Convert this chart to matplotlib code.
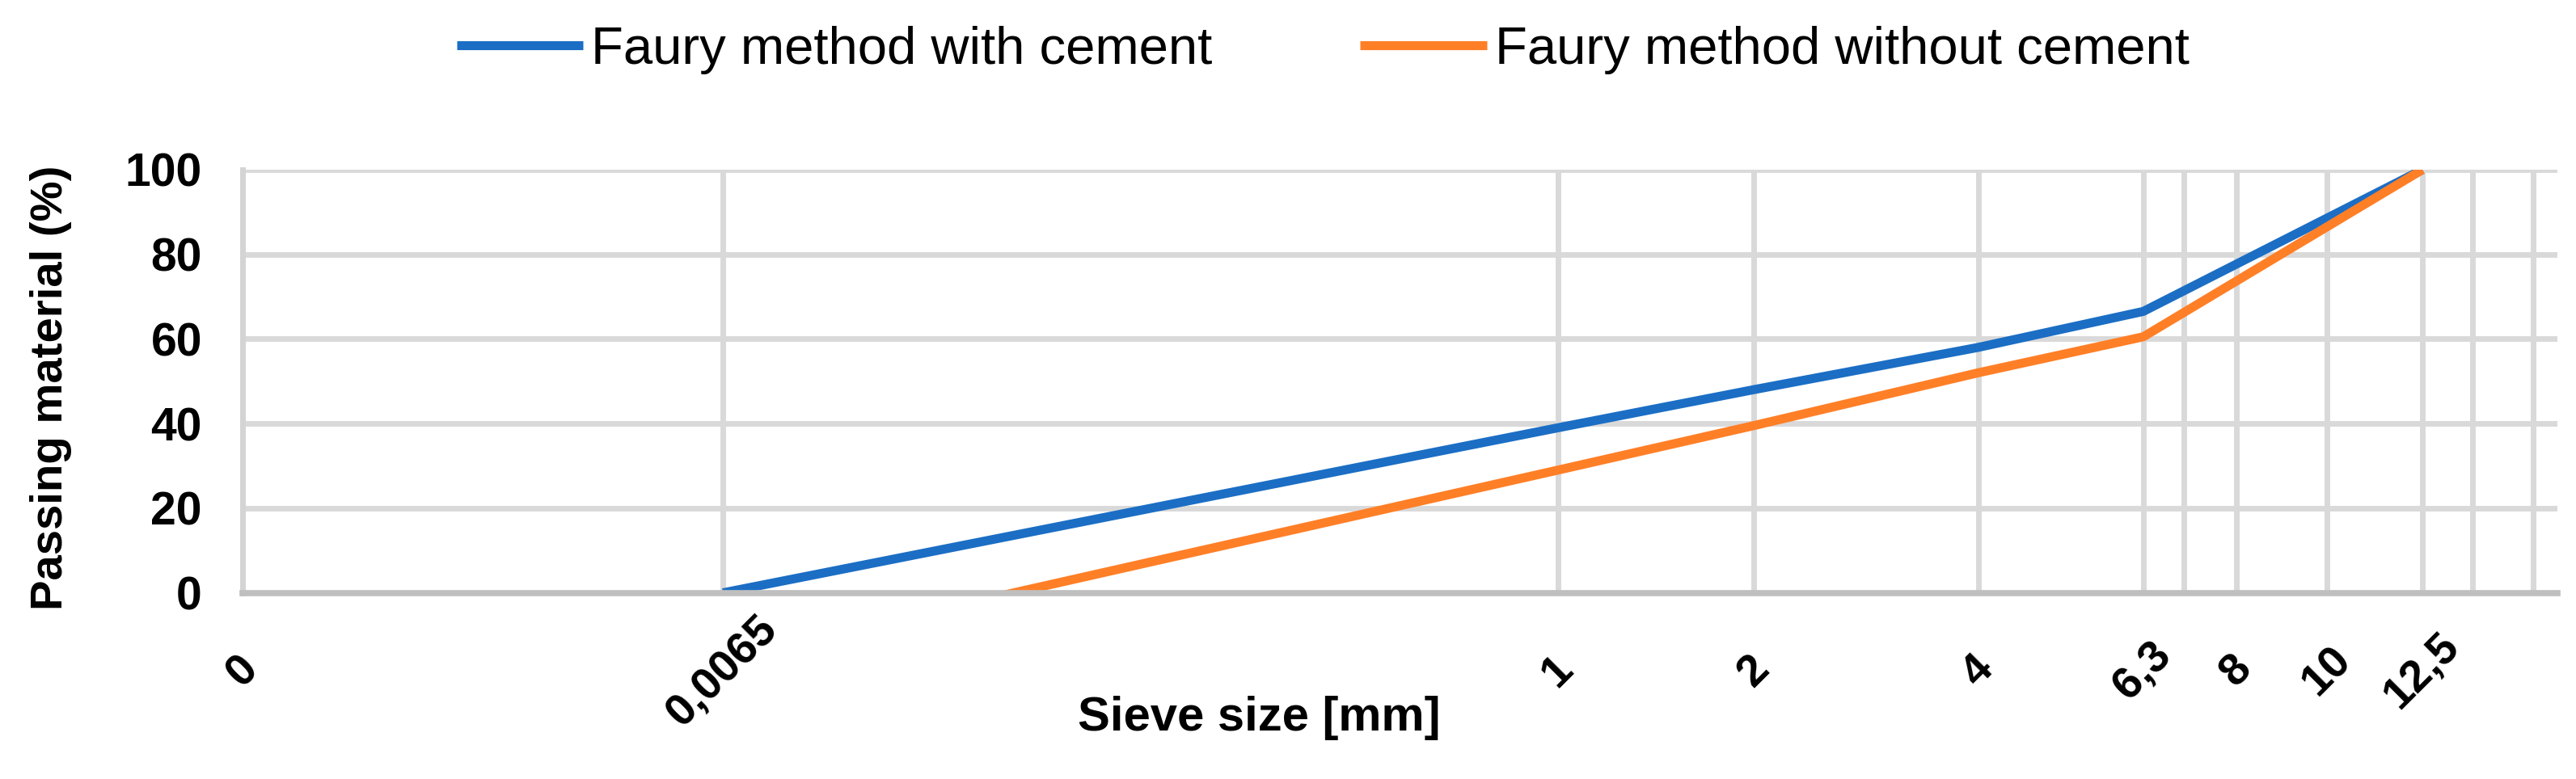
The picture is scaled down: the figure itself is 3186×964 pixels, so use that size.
import numpy as np
import matplotlib
matplotlib.use("Agg")
import matplotlib.pyplot as plt

# ---- data ----
sieve_sizes = [0.0065, 1, 2, 4, 6.3, 12.5]
with_cement = [0, 39, 48, 58, 66.5, 100]
without_cement = [-15.5, 29, 39.5, 52, 60.5, 100]

tick_values = [0, 0.0065, 1, 2, 4, 6.3, 8, 10, 12.5]
tick_labels = ["0", "0,0065", "1", "2", "4", "6,3", "8", "10", "12,5"]
extra_grid = [7, 14, 16]
y_ticks = [0, 20, 40, 60, 80, 100]

series_names = ["Faury method with cement", "Faury method without cement"]
colors = ["#1B6EC4", "#FF7F27"]

plt.rcParams['font.family'] = ['Liberation Sans', 'DejaVu Sans']

fig = plt.figure(figsize=(31.86, 9.64), dpi=100)
ax = fig.add_axes([0.09416, 0.2390, 0.99278 - 0.09416, 0.7822 - 0.2390])

fwd = lambda x: np.power(np.clip(x, 0, None), 0.2)
inv = lambda u: np.power(u, 5.0)
ax.set_xscale('function', functions=(fwd, inv))

ax.plot(sieve_sizes, with_cement, color=colors[0], lw=8, label=series_names[0],
        solid_capstyle='butt', zorder=3)
ax.plot(sieve_sizes, without_cement, color=colors[1], lw=8, label=series_names[1],
        solid_capstyle='butt', zorder=3)

ax.set_xlim(0, 16.88)
ax.set_ylim(0, 100)

ax.set_xticks(tick_values)
ax.set_xticks(extra_grid, minor=True)
ax.set_xticklabels(tick_labels, rotation=45, ha='center', va='center', fontsize=40,
                   fontweight='bold')
ax.set_yticks(y_ticks)
ax.set_yticklabels([str(v) for v in y_ticks], fontsize=41, fontweight='bold')

ax.tick_params(axis='x', which='both', length=0, pad=70)
ax.tick_params(axis='y', length=0, pad=36)

ax.grid(True, which='both', color='#D9D9D9', lw=5, zorder=0)
ax.set_axisbelow(True)

for s in ['top', 'right']:
    ax.spines[s].set_visible(False)
ax.spines['left'].set_color('#D4D4D4')
ax.spines['left'].set_linewidth(5)
ax.spines['bottom'].set_color('#BFBFBF')
ax.spines['bottom'].set_linewidth(5.5)
ax.spines['bottom'].set_zorder(4)

fig.text(63 / 3186, 1 - 480 / 964, "Passing material (%)", rotation=90,
         ha='center', va='center', fontsize=40.5, fontweight='bold')
fig.text(1557 / 3186, 1 - 889 / 964, "Sieve size [mm]", ha='center', va='center',
         fontsize=43, fontweight='bold')

fig.legend(loc='center', bbox_to_anchor=(0.5135, 0.9357), ncol=2, frameon=False,
           fontsize=47, handlelength=2.4, handletextpad=0.15, columnspacing=2.8)

fig.savefig("out.png", dpi=100, facecolor='white')
